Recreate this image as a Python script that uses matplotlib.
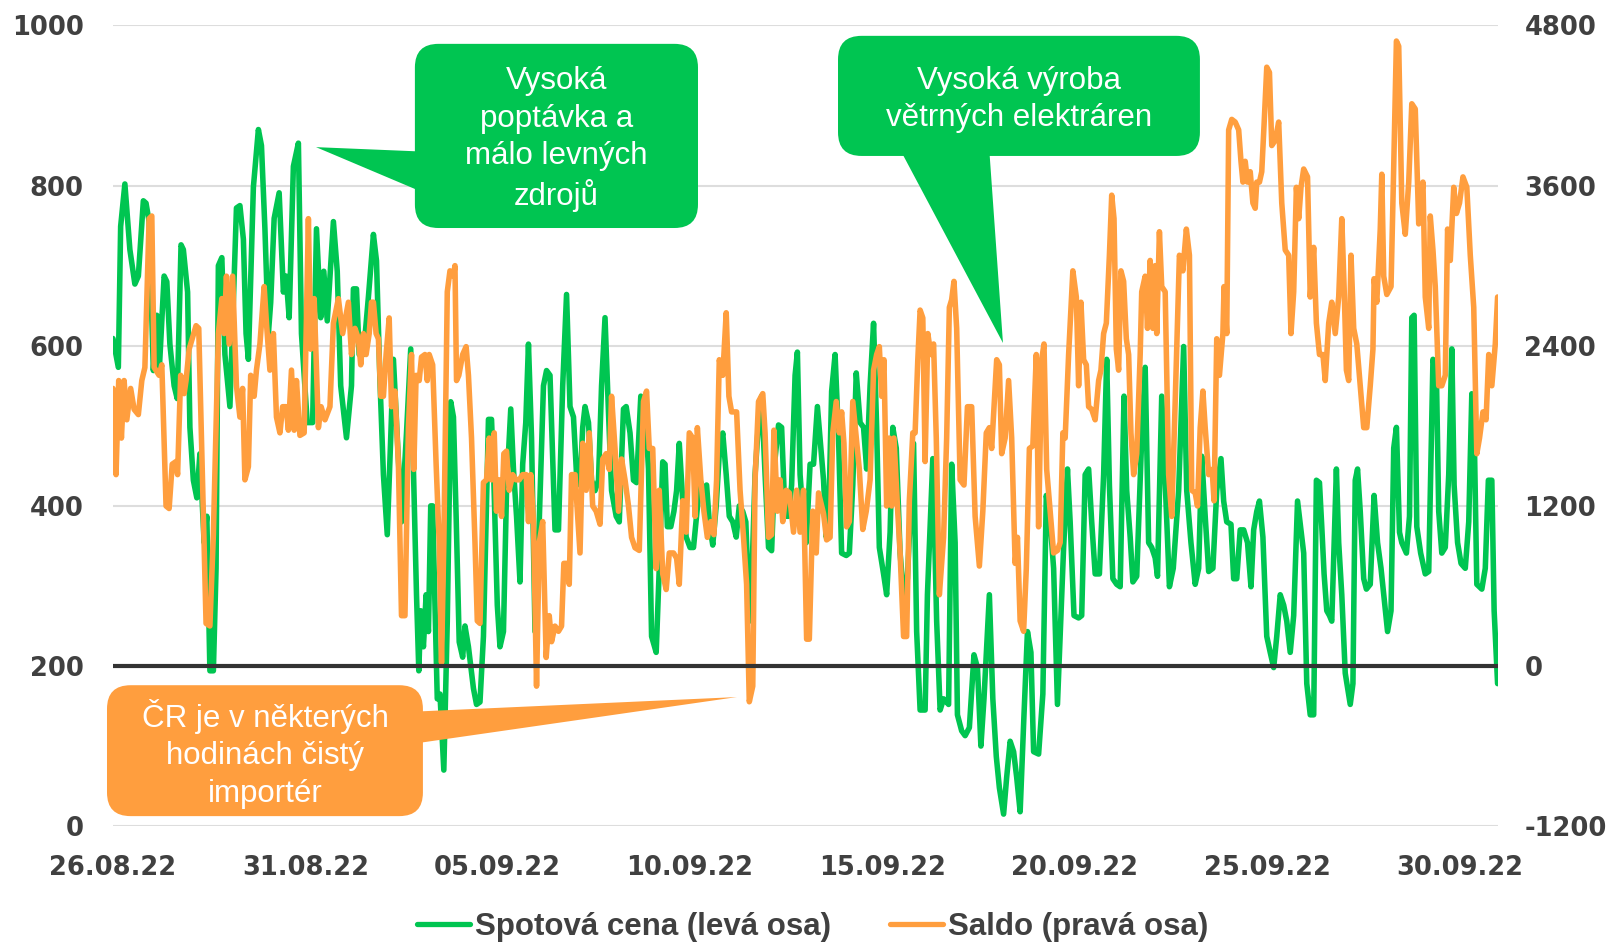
import numpy as np
import pandas as pd
import matplotlib
matplotlib.use("Agg")
import matplotlib.pyplot as plt
import matplotlib.dates as mdates
from matplotlib.patches import FancyBboxPatch, Polygon
from matplotlib.lines import Line2D

# ---------------- data ----------------
# time in days since 26.08.2022 00:00
spot_days = [
    0.00, 0.14, 0.20, 0.31, 0.44, 0.57, 0.66, 0.79, 0.86, 0.94, 1.05, 1.14, 1.20, 1.33, 1.40, 1.48,
    1.59, 1.67, 1.77, 1.83, 1.94, 2.00, 2.09, 2.18, 2.26, 2.37, 2.44, 2.52, 2.61, 2.68, 2.74, 2.83,
    2.91, 3.04, 3.21, 3.30, 3.39, 3.46, 3.52, 3.65, 3.78, 3.86, 3.95, 4.04, 4.10, 4.19, 4.32, 4.43,
    4.50, 4.58, 4.69, 4.82, 4.90, 5.05, 5.19, 5.29, 5.40, 5.48, 5.57, 5.73, 5.83, 5.92, 6.07,
    6.20, 6.25, 6.33, 6.40, 6.51, 6.64, 6.77, 6.85, 6.94, 7.03, 7.13, 7.22, 7.29, 7.39, 7.50, 7.63,
    7.74, 7.81, 7.89, 7.95, 8.00, 8.07, 8.14, 8.20, 8.26, 8.31, 8.37, 8.43, 8.50, 8.60, 8.69, 8.78,
    8.85, 8.92, 9.00, 9.09, 9.15, 9.24, 9.37, 9.45, 9.54, 9.63, 9.76, 9.84, 9.90, 9.99, 10.06, 10.15,
    10.23, 10.34, 10.41, 10.49, 10.58, 10.65, 10.73, 10.80, 10.88, 10.97, 11.08, 11.19, 11.27, 11.36,
    11.49, 11.58, 11.69, 11.79, 11.88, 11.97, 12.05,
    12.14, 12.21, 12.27, 12.36, 12.44, 12.53, 12.62, 12.70, 12.79, 12.88, 12.96, 13.08, 13.16, 13.27,
    13.34, 13.44, 13.53, 13.61, 13.72, 13.83, 13.92, 14.00, 14.12, 14.20, 14.29, 14.35, 14.41, 14.50,
    14.58, 14.65, 14.72, 14.81, 14.90, 15.00, 15.09, 15.17, 15.26, 15.35, 15.43, 15.50, 15.59, 15.68,
    15.76, 15.85, 15.94, 16.02, 16.11, 16.20, 16.28, 16.37, 16.45, 16.54, 16.60, 16.69, 16.78, 16.86,
    16.95, 17.04, 17.12, 17.21, 17.30, 17.38, 17.47, 17.56, 17.64, 17.73, 17.79, 17.86, 17.93, 18.02,
    18.12, 18.21, 18.31,
    18.47, 18.54, 18.62, 18.68, 18.77, 18.86, 18.94, 19.06, 19.14, 19.23, 19.32, 19.42, 19.51, 19.59,
    19.68, 19.77, 19.85, 19.92, 20.03, 20.11, 20.20, 20.27, 20.36, 20.46, 20.55, 20.65, 20.81, 20.89,
    20.98, 21.11, 21.17, 21.31, 21.41, 21.50, 21.59, 21.72, 21.80, 21.89, 21.95, 22.06, 22.15, 22.26,
    22.38, 22.47, 22.56, 22.64, 22.78, 22.87, 22.96, 23.04, 23.15, 23.23, 23.32, 23.41, 23.49, 23.58,
    23.68, 23.77, 23.86, 23.93, 24.06, 24.17, 24.26, 24.36, 24.45, 24.55,
    24.71, 24.81, 24.88, 24.98, 25.10, 25.18, 25.27, 25.36, 25.44, 25.53, 25.64, 25.75, 25.83, 25.90,
    25.99, 26.09, 26.18, 26.28, 26.35, 26.44, 26.51, 26.61, 26.74, 26.83, 26.92, 27.00, 27.09, 27.15,
    27.26, 27.38, 27.46, 27.56, 27.70, 27.83, 27.91, 28.02, 28.13, 28.22, 28.30, 28.39, 28.48, 28.59,
    28.69, 28.80, 28.87, 28.95, 29.06, 29.13, 29.21, 29.30, 29.39, 29.49, 29.58, 29.65, 29.73, 29.80,
    29.89, 29.99, 30.08, 30.17, 30.25, 30.34, 30.43, 30.51, 30.60, 30.69, 30.79,
    30.95, 31.03, 31.12, 31.21, 31.28, 31.36, 31.42, 31.48, 31.55, 31.62, 31.68, 31.80, 31.86, 31.94,
    32.03, 32.16, 32.23, 32.29, 32.35, 32.42, 32.51, 32.58, 32.68, 32.78, 32.87, 32.96, 33.03, 33.13,
    33.22, 33.29, 33.36, 33.44, 33.50, 33.62, 33.70, 33.76, 33.82, 33.89, 33.99, 34.11, 34.20, 34.31,
    34.40, 34.46, 34.54, 34.63, 34.72, 34.80, 34.86, 34.95, 35.04, 35.15, 35.24, 35.32, 35.38, 35.45,
    35.58, 35.67, 35.75, 35.84, 35.90, 35.99,
]
spot_price = [
    609, 573, 749, 802, 720, 677, 687, 781, 778, 755, 569, 638, 566, 687, 680, 602,
    550, 534, 726, 720, 667, 498, 432, 410, 465, 354, 387, 194, 194, 322, 700, 710,
    589, 524, 772, 775, 733, 615, 583, 798, 870, 850, 746, 615, 654, 759, 791, 667,
    687, 635, 824, 853, 615, 504, 504, 746, 635, 693, 631, 755, 693, 550, 485,
    550, 671, 671, 589, 589, 661, 739, 706, 556, 439, 364, 485, 583, 485, 380, 491,
    596, 446, 289, 194, 269, 224, 289, 243, 400, 400, 276, 159, 165, 70, 256, 530,
    511, 387, 230, 211, 250, 224, 172, 152, 155, 237, 508, 508, 432, 276, 224, 243,
    419, 521, 446, 387, 305, 452, 504, 602, 485, 243, 380, 550, 569, 563,
    370, 370, 550, 664, 524, 511, 439,
    426, 498, 524, 504, 432, 419, 432, 550, 635, 517, 419, 387, 380, 521,
    524, 491, 432, 429, 537, 524, 446, 237, 217, 322, 455, 452, 374, 374,
    393, 419, 478, 406, 361, 348, 348, 387, 432, 419, 426, 380, 351, 400,
    465, 491, 439, 387, 380, 361, 400, 393, 380, 256, 302, 439, 504, 537,
    439, 348, 344, 459, 501, 498, 387, 387, 426, 563, 592, 439, 393, 354,
    452, 452, 524,
    432, 361, 419, 543, 589, 485, 341, 338, 341, 426, 566, 504, 498, 446,
    550, 628, 498, 348, 315, 289, 367, 498, 472, 341, 289, 309, 478, 243,
    145, 145, 289, 459, 256, 145, 159, 152, 452, 354, 139, 119, 113, 123,
    214, 198, 100, 159, 289, 159, 87, 48, 15, 61, 106, 93, 61, 18,
    139, 243, 217, 93, 90, 165, 413, 380, 322, 152,
    348, 446, 380, 263, 260, 263, 439, 446, 380, 315, 315, 439, 583, 426,
    309, 302, 299, 537, 419, 361, 305, 312, 485, 573, 354, 348, 335, 312,
    537, 393, 299, 322, 419, 599, 419, 354, 302, 322, 462, 387, 318, 322,
    419, 459, 406, 380, 377, 309, 309, 370, 370, 354, 299, 370, 393, 406,
    361, 237, 217, 198, 237, 289, 276, 256, 217, 263, 406,
    341, 178, 139, 139, 432, 429, 374, 315, 269, 263, 256, 446, 354, 289,
    191, 152, 178, 432, 446, 393, 309, 296, 302, 413, 354, 322, 289, 243,
    269, 472, 498, 367, 354, 341, 387, 635, 638, 374, 341, 315, 318, 583,
    563, 393, 341, 348, 439, 596, 426, 354, 328, 322, 380, 540, 498, 302,
    296, 322, 432, 432, 269, 178,
]

saldo_days = [
    0.00, 0.08, 0.15, 0.22, 0.29, 0.36, 0.46, 0.55, 0.66, 0.75, 0.83, 0.94, 1.01, 1.07, 1.20, 1.27,
    1.38, 1.46, 1.54, 1.64, 1.68, 1.76, 1.85, 1.90, 1.98, 2.16, 2.23, 2.42, 2.52, 2.61, 2.74, 2.83,
    2.89, 2.95, 3.02, 3.11, 3.21, 3.30, 3.37, 3.43, 3.52, 3.58, 3.67, 3.73, 3.82, 3.93, 3.99, 4.08,
    4.17, 4.25, 4.34, 4.41, 4.50, 4.56, 4.64, 4.71, 4.77, 4.86, 4.97, 5.08, 5.14, 5.23, 5.34, 5.41,
    5.51, 5.64, 5.73, 5.86, 5.97, 6.12,
    6.20, 6.29, 6.38, 6.44, 6.51, 6.58, 6.66, 6.72, 6.77, 6.84, 6.90, 6.96, 7.03, 7.10, 7.18, 7.24,
    7.33, 7.42, 7.50, 7.59, 7.68, 7.76, 7.82, 7.88, 7.96, 8.02, 8.11, 8.17, 8.22, 8.31, 8.40, 8.48,
    8.54, 8.60, 8.69, 8.76, 8.85, 8.89, 8.93, 8.99, 9.09, 9.18, 9.24, 9.32, 9.41, 9.47, 9.54, 9.63,
    9.71, 9.78, 9.84, 9.91, 9.97, 10.04, 10.10, 10.16, 10.23, 10.30, 10.39, 10.48, 10.56, 10.65,
    10.74, 10.80, 10.86, 10.93, 11.01, 11.08, 11.17, 11.26, 11.34, 11.40, 11.49, 11.58, 11.66, 11.72,
    11.79, 11.86, 11.92, 12.01,
    12.14, 12.21, 12.30, 12.38, 12.47, 12.56, 12.66, 12.73, 12.82, 12.90, 12.96, 13.05, 13.14, 13.22,
    13.31, 13.40, 13.48, 13.57, 13.68, 13.79, 13.87, 13.94, 14.03, 14.12, 14.20, 14.29, 14.38, 14.46,
    14.57, 14.65, 14.72, 14.81, 14.90, 14.98, 15.07, 15.13, 15.19, 15.28, 15.36, 15.45, 15.54, 15.62,
    15.69, 15.76, 15.85, 15.94, 16.01, 16.08, 16.21, 16.30, 16.39, 16.47, 16.54, 16.63, 16.69, 16.78,
    16.89, 16.95, 17.04, 17.12, 17.18, 17.27, 17.34, 17.41, 17.50, 17.58, 17.69, 17.77, 17.86, 17.95,
    18.03, 18.10, 18.19, 18.28, 18.34,
    18.47, 18.55, 18.64, 18.71, 18.80, 18.88, 18.94, 19.00, 19.07, 19.14, 19.23, 19.32, 19.40, 19.49,
    19.58, 19.68, 19.77, 19.85, 19.92, 19.98, 20.04, 20.11, 20.18, 20.24, 20.30, 20.39, 20.46, 20.55,
    20.63, 20.70, 20.79, 20.85, 20.92, 20.98, 21.05, 21.11, 21.18, 21.26, 21.33, 21.40, 21.48, 21.59,
    21.67, 21.74, 21.80, 21.86, 21.93, 22.02, 22.12, 22.21, 22.32, 22.41, 22.52, 22.61, 22.70, 22.78,
    22.84, 22.90, 22.97, 23.04, 23.10, 23.19, 23.28, 23.36, 23.45, 23.51, 23.58, 23.67, 23.74, 23.82,
    23.91, 24.00, 24.06, 24.14, 24.20, 24.27, 24.36, 24.45, 24.55,
    24.62, 24.69, 24.75, 24.84, 24.95, 25.04, 25.10, 25.16, 25.23, 25.30, 25.36, 25.44, 25.53, 25.62,
    25.68, 25.75, 25.82, 25.90, 25.96, 26.02, 26.08, 26.14, 26.20, 26.27, 26.34, 26.40, 26.46, 26.53,
    26.61, 26.70, 26.74, 26.83, 26.89, 26.96, 27.03, 27.09, 27.13, 27.20, 27.26, 27.35, 27.44, 27.52,
    27.61, 27.72, 27.81, 27.90, 27.98, 28.04, 28.13, 28.19, 28.26, 28.33, 28.39, 28.48, 28.57, 28.62,
    28.69, 28.76, 28.85, 28.88, 28.95, 29.00, 29.08, 29.17, 29.26, 29.32, 29.37, 29.43, 29.49, 29.56,
    29.63, 29.69, 29.73, 29.80, 29.86, 29.92, 29.99, 30.06, 30.12, 30.21, 30.30, 30.38, 30.47, 30.56,
    30.62, 30.69, 30.76, 30.82, 30.88,
    30.95, 31.05, 31.12, 31.21, 31.28, 31.36, 31.45, 31.51, 31.60, 31.68, 31.77, 31.86, 31.94, 32.00,
    32.06, 32.12, 32.18, 32.25, 32.33, 32.42, 32.51, 32.59, 32.68, 32.75, 32.78, 32.85, 32.94, 32.98,
    33.03, 33.11, 33.22, 33.29, 33.36, 33.42, 33.50, 33.59, 33.68, 33.76, 33.85, 33.94, 34.05, 34.11,
    34.20, 34.24, 34.31, 34.37, 34.46, 34.54, 34.63, 34.69, 34.76, 34.85, 34.92, 35.00, 35.09, 35.19,
    35.28, 35.37, 35.45, 35.52, 35.61, 35.69, 35.76, 35.84, 35.93, 35.99,
]
saldo_mw = [
    2080, 1434, 2139, 1708, 2139, 1845, 2080, 1923, 1884, 2139, 2237, 3352, 3372, 2237, 2178, 2257,
    1199, 1180, 1512, 1532, 1434, 2178, 2041, 2139, 2374, 2550, 2530, 319, 300, 984, 2491, 2753,
    2491, 2921, 2413, 2921, 2100, 1865, 2080, 1395, 1493, 2178, 2021, 2217, 2413, 2843, 2569, 2217,
    2491, 1865, 1747, 1943, 1943, 1767, 2217, 1767, 2139, 1728, 1747, 3352, 2374, 2753, 1786, 1943,
    1845, 1943, 2569, 2753, 2491, 2726,
    2334, 2530, 2452, 2257, 2491, 2334, 2491, 2726, 2726, 2491, 2452, 2021, 2021, 2334, 2608, 1943,
    2060, 1512, 377, 377, 1786, 2334, 1473, 2178, 2139, 2315, 2334, 2139, 2334, 2257, 1512, 925,
    25, 925, 2804, 2961, 2921, 3000, 2139, 2178, 2334, 2393, 2178, 1708, 925, 338, 319, 1375,
    1395, 1708, 1395, 1747, 1160, 1395, 1121, 1591, 1610, 1317, 1434, 1395, 1395, 1434,
    1434, 1082, 1434, 1082, -151, 925, 1082, 64, 377, 182, 299, 260, 299, 769,
    769, 612, 1434, 1434,
    847, 1669, 1317, 1747, 1199, 1160, 1062, 1551, 1591, 1473, 2021, 1630, 1160, 1551,
    1395, 1199, 964, 886, 866, 1982, 2060, 1630, 1630, 730, 1317, 690, 573, 847,
    847, 808, 612, 1238, 1003, 1747, 1708, 1121, 1786, 1395, 1160, 964, 1082, 984,
    1395, 2295, 2178, 2647, 2021, 1904, 1904, 1317, 964, 612, -268, -151, 1395, 1982,
    2041, 1747, 964, 984, 1767, 1160, 1395, 1082, 1317, 1297, 1003, 1317, 1003, 1317,
    201, 201, 1160, 847, 1297,
    1141, 945, 964, 1747, 1982, 1747, 1904, 1669, 1043, 1082, 1982, 1708, 1473, 1023,
    1160, 1395, 2217, 2334, 2393, 2021, 2295, 1199, 1708, 1199, 1708, 1199, 847, 221,
    221, 1238, 1747, 1747, 2295, 2667, 2608, 1532, 2491, 2334, 2413, 1708, 534, 964,
    1708, 2687, 2745, 2882, 2530, 1395, 1356, 1943, 1943, 1121, 749, 1160, 1747, 1786,
    1630, 1943, 2295, 2257, 1591, 1708, 2139, 1708, 769, 964, 338, 260, 730, 1630,
    1649, 2334, 1043, 2295, 2413, 1473, 1160, 847, 866,
    925, 1747, 1708, 2334, 2961, 2765, 2100, 2726, 2295, 2257, 1943, 1923, 1845, 2139,
    2217, 2491, 2569, 3078, 3528, 3352, 2374, 2217, 2961, 2882, 2452, 2334, 1747, 1434,
    1591, 2334, 2804, 2921, 2530, 3039, 2530, 3000, 2491, 3254, 2843, 2804, 1434, 1121,
    1982, 3078, 2961, 3274, 3078, 1317, 1297, 1199, 1786, 2060, 1786, 1434, 1473, 1238,
    2452, 2178, 2491, 2843, 2491, 4017, 4096, 4076, 4017, 3782, 3626, 3782, 3626, 3704,
    3469, 3430, 3626, 3626, 3704, 4056, 4487, 4448, 3900, 3939, 4076, 3469, 3117, 3078,
    2491, 2804, 3587, 3352, 3587,
    3724, 3665, 2765, 3137, 2569, 2334, 2334, 2139, 2569, 2726, 2491, 2765, 3352, 2843,
    2217, 2139, 3078, 2530, 2413, 2100, 1786, 1786, 2100, 2374, 2902, 2726, 3274, 3685,
    2921, 2784, 2843, 3743, 4683, 4644, 3469, 3235, 3626, 4213, 4174, 3313, 3626, 2765,
    2530, 3372, 3117, 2843, 2100, 2100, 2178, 3274, 3039, 3587, 3391, 3469, 3665, 3587,
    3078, 2687, 1591, 1708, 1904, 1845, 2334, 2100, 2413, 2765,
]

left_ticks = [0, 200, 400, 600, 800, 1000]
right_ticks = [-1200, 0, 1200, 2400, 3600, 4800]
series_labels = ["Spotová cena (levá osa)", "Saldo (pravá osa)"]
note_demand = "Vysoká\npoptávka a\nmálo levných\nzdrojů"
note_wind = "Vysoká výroba\nvětrných elektráren"
note_import = "ČR je v některých\nhodinách čistý\nimportér"

# ---------------- styling ----------------
GREEN = "#00C551"
ORANGE = "#FF9E3E"
TXT = "#404040"
GRID = "#DDDDDD"
ANN_FONT = ["Liberation Sans", "DejaVu Sans"]

plt.rcParams["font.family"] = ["DejaVu Sans"]
plt.rcParams["axes.unicode_minus"] = False

start = pd.Timestamp("2022-08-26")
spot_t = start + pd.to_timedelta(np.array(spot_days), unit="D")
saldo_t = start + pd.to_timedelta(np.array(saldo_days), unit="D")

fig = plt.figure(figsize=(16.09, 9.42), dpi=100)
ax = fig.add_axes([0.0702, 0.123, 0.8608, 0.850])
ax2 = ax.twinx()

ax.plot(spot_t, spot_price, color=GREEN, lw=4.0, solid_joinstyle="round",
        solid_capstyle="round", zorder=3)
ax2.plot(saldo_t, saldo_mw, color=ORANGE, lw=4.0, solid_joinstyle="round",
         solid_capstyle="round", zorder=3)
ax2.axhline(0, color="#333333", lw=3.0, zorder=5)

ax.set_xlim(start, start + pd.Timedelta(days=36))
ax.set_ylim(0, 1000)
ax2.set_ylim(-1200, 4800)
ax.set_yticks(left_ticks)
ax2.set_yticks(right_ticks)
ax.set_xticks(pd.date_range("2022-08-26", "2022-09-30", freq="5D"))
ax.xaxis.set_major_formatter(mdates.DateFormatter("%d.%m.%y"))

ax.grid(axis="y", color=GRID, lw=1.5)
ax.grid(axis="x", visible=False)
ax.set_axisbelow(True)
for a in (ax, ax2):
    for s in a.spines.values():
        s.set_visible(False)

ax.tick_params(axis="y", length=0, pad=21, labelsize=18.5, labelcolor=TXT)
ax.tick_params(axis="x", length=0, pad=21, labelsize=18.5, labelcolor=TXT)
ax2.tick_params(axis="y", length=0, pad=19, labelsize=18.5, labelcolor=TXT)
for lbl in ax.get_xticklabels() + ax.get_yticklabels() + ax2.get_yticklabels():
    lbl.set_fontweight("bold")

# ---------------- annotation callouts ----------------
tr = ax2.transAxes
aspect = (0.8608 * 1609) / (0.850 * 942)


def callout(x0, y0, x1, y1, pointer, color, text):
    box = FancyBboxPatch((x0, y0), x1 - x0, y1 - y0,
                         boxstyle="round,pad=0,rounding_size=0.017",
                         mutation_aspect=aspect, transform=tr,
                         facecolor=color, edgecolor="none", clip_on=False, zorder=10)
    ax2.add_patch(box)
    ax2.add_patch(Polygon(pointer, closed=True, transform=tr, facecolor=color,
                          edgecolor="none", clip_on=False, zorder=10))
    ax2.text((x0 + x1) / 2, (y0 + y1) / 2 - 0.004, text, transform=tr, ha="center",
             va="center", color="white", fontsize=22.5, family=ANN_FONT,
             linespacing=1.31, zorder=11)


callout(0.218, 0.747, 0.4224, 0.977,
        [(0.1466, 0.848), (0.23, 0.842), (0.23, 0.787)], GREEN, note_demand)
callout(0.5235, 0.837, 0.7848, 0.987,
        [(0.5668, 0.85), (0.6325, 0.85), (0.6426, 0.6034)], GREEN, note_wind)
callout(-0.0043, 0.0125, 0.2238, 0.176,
        [(0.21, 0.1424), (0.4505, 0.1612), (0.21, 0.1012)], ORANGE, note_import)

# ---------------- legend ----------------
handles = [Line2D([], [], color=GREEN, lw=3.8, solid_capstyle="round"),
           Line2D([], [], color=ORANGE, lw=3.8, solid_capstyle="round")]
fig.legend(handles, series_labels, loc="center", bbox_to_anchor=(0.505, 0.016), ncol=2,
           frameon=False, prop={"family": ANN_FONT, "weight": "bold", "size": 22.5},
           handlelength=1.7, handletextpad=0.15, columnspacing=1.9, labelcolor=TXT,
           borderaxespad=0, borderpad=0)

fig.savefig("out.png", dpi=100)
